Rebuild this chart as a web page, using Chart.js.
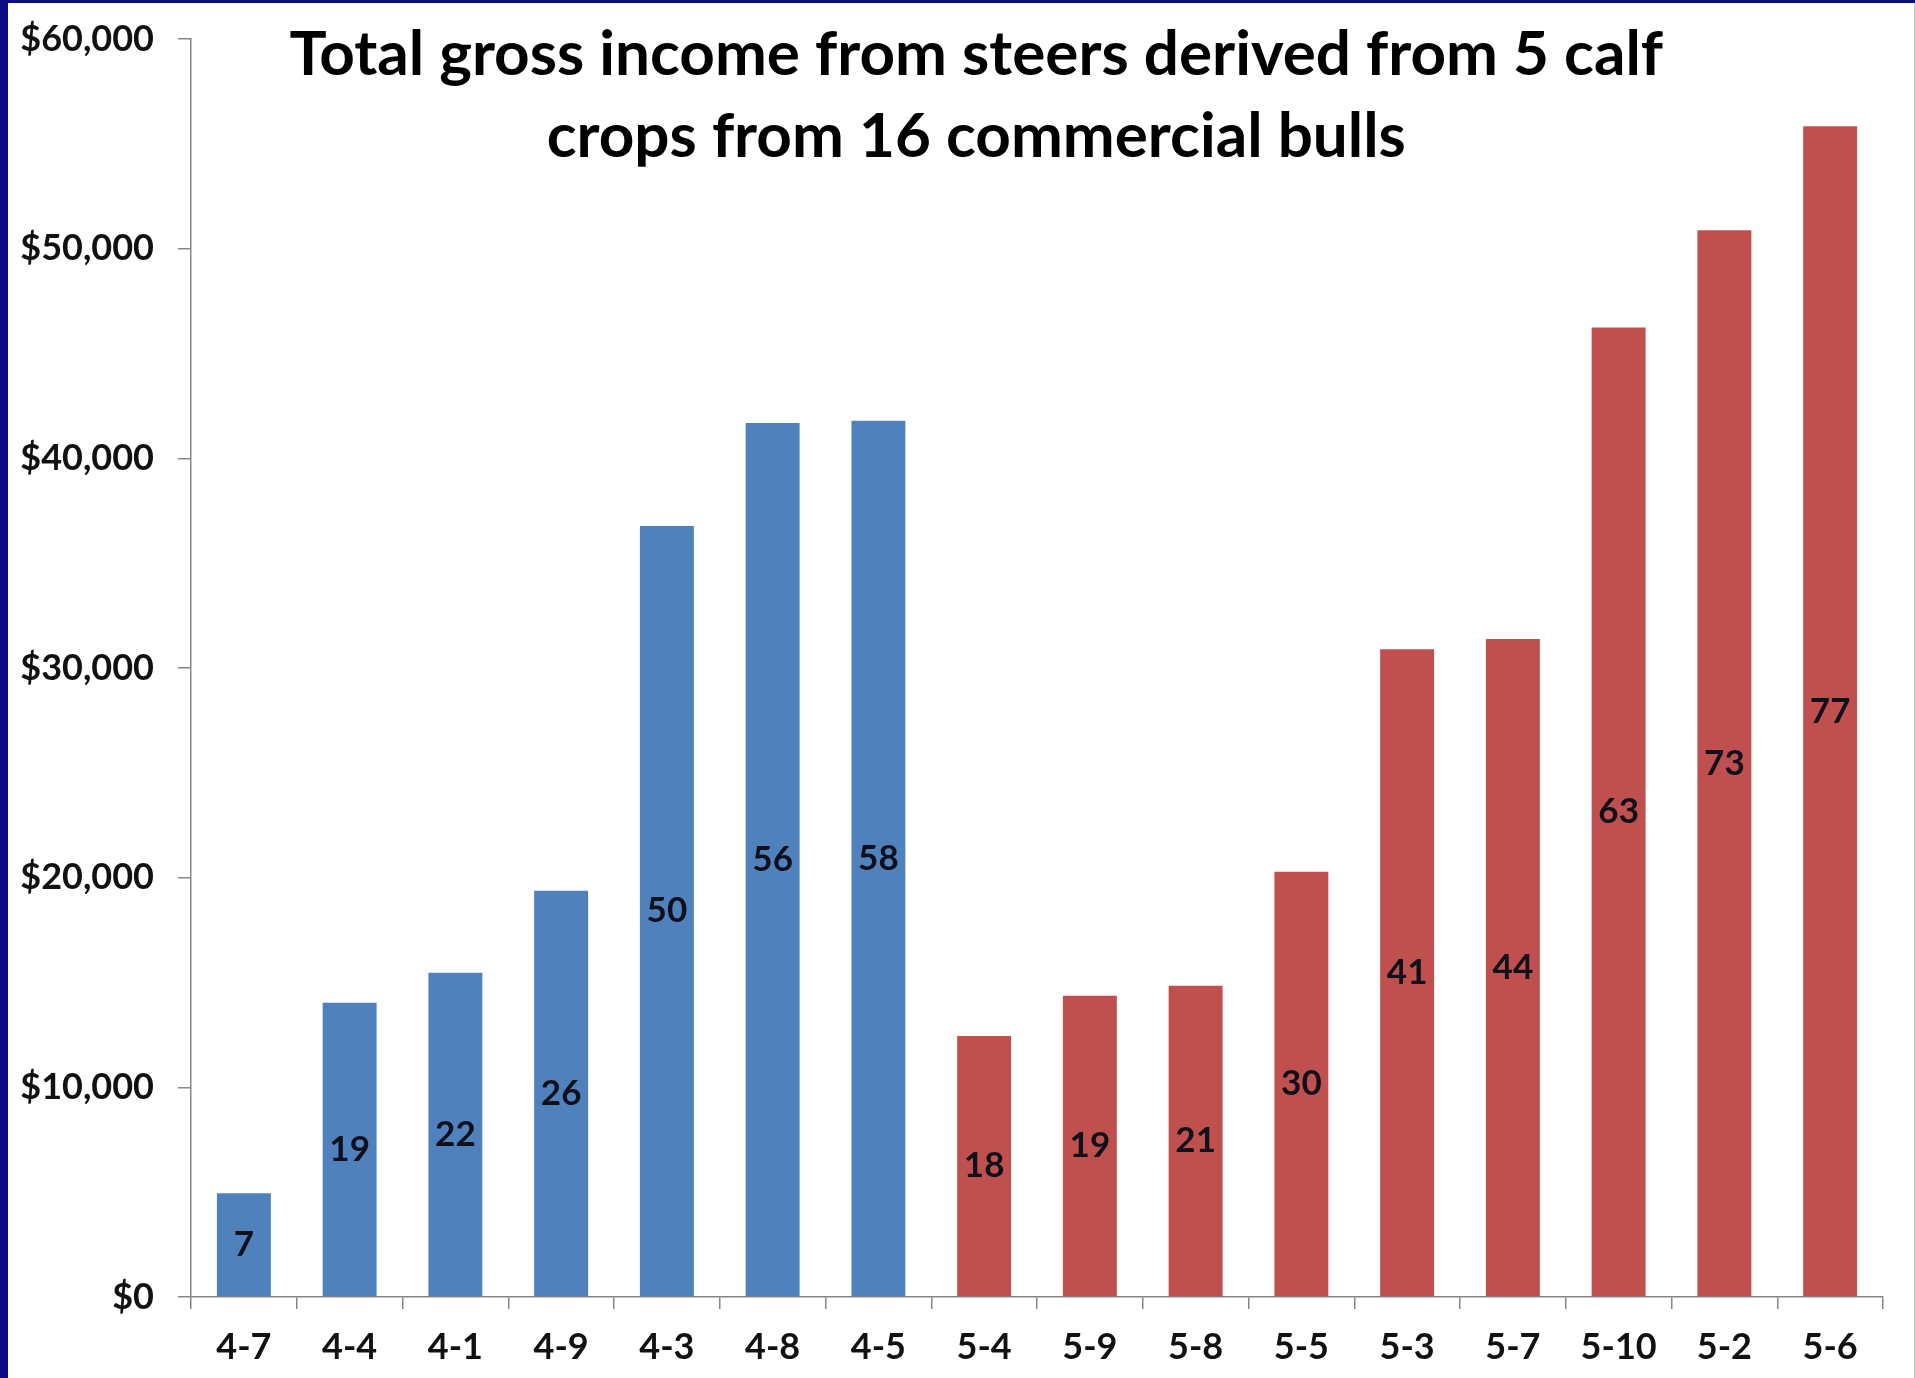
<!DOCTYPE html>
<html>
<head>
<meta charset="utf-8">
<script src="https://cdn.jsdelivr.net/npm/chart.js@4.4.1/dist/chart.umd.min.js"></script>
<style>
    html, body { margin: 0; padding: 0; background: #0a0a85; overflow: hidden; }
    #frame {
        position: absolute; left: 8px; top: 3px;
        width: 1906px; height: 1376px;
        background: #ffffff;
        border-right: 1px solid #c4c4c4;
    }
    #chart { display: block; }
</style>
</head>
<body>
<div id="frame"><canvas id="chart" width="1906" height="1375"></canvas></div>
<script>
// ## bull ids (sire group 4 first, then group 5) ##
const bulls = ['4-7', '4-4', '4-1', '4-9', '4-3', '4-8', '4-5',
               '5-4', '5-9', '5-8', '5-5', '5-3', '5-7', '5-10', '5-2', '5-6'];
// total gross income, dollars
const grossIncome = [4950, 14030, 15470, 19380, 36770, 41690, 41790,
                     12450, 14370, 14850, 20280, 30900, 31380, 46240, 50880, 55840];
// number of steers per bull, printed inside each bar
const steers = [7, 19, 22, 26, 50, 56, 58, 18, 19, 21, 30, 41, 44, 63, 73, 77];
const yTicks = [0, 10000, 20000, 30000, 40000, 50000, 60000];
const titleLines = ['Total gross income from steers derived from 5 calf',
                    'crops from 16 commercial bulls'];

const FONT = 'Lato, "Open Sans", "DejaVu Sans", sans-serif';
const BLUE = '#4f81bd';
const RED = '#c0504d';
const AXIS = '#868686';

// counts in the middle of every bar
const barLabels = {
    id: 'barLabels',
    afterDatasetsDraw(chart) {
        const ctx = chart.ctx;
        const meta = chart.getDatasetMeta(0);
        ctx.save();
        ctx.font = 'bold 35px ' + FONT;
        ctx.fillStyle = '#10101c';
        ctx.textAlign = 'center';
        ctx.textBaseline = 'middle';
        meta.data.forEach(function (bar, i) {
            ctx.fillText(String(steers[i]), bar.x, (bar.y + bar.base) / 2);
        });
        ctx.restore();
    }
};

// two line heading laid over the top of the plot
const overlayTitle = {
    id: 'overlayTitle',
    afterDraw(chart) {
        const ctx = chart.ctx;
        const cx = chart.width * 0.508;
        ctx.save();
        ctx.font = 'bold 62px ' + FONT;
        ctx.fillStyle = '#000000';
        ctx.textAlign = 'center';
        ctx.textBaseline = 'middle';
        ctx.fillText(titleLines[0], cx, 52);
        ctx.fillText(titleLines[1], cx, 134);
        ctx.restore();
    }
};

new Chart(document.getElementById('chart'), {
    type: 'bar',
    data: {
        labels: bulls,
        datasets: [{
            data: grossIncome,
            backgroundColor: function (c) {
                return bulls[c.dataIndex].startsWith('4') ? BLUE : RED;
            },
            borderWidth: 0,
            barPercentage: 0.51,
            categoryPercentage: 1
        }]
    },
    options: {
        responsive: false,
        animation: false,
        layout: { padding: { top: 36, right: 31, left: 0, bottom: 0 } },
        plugins: {
            legend: { display: false },
            title: { display: false },
            tooltip: { enabled: false }
        },
        scales: {
            x: {
                afterFit: function (scale) { scale.height = 81; },
                grid: {
                    offset: true,
                    drawOnChartArea: false,
                    drawTicks: true,
                    tickLength: 12,
                    color: AXIS,
                    lineWidth: 1.5
                },
                border: { display: true, color: AXIS, width: 1.5 },
                ticks: {
                    color: '#111111',
                    padding: 17,
                    maxRotation: 0,
                    autoSkip: false,
                    font: { family: FONT, size: 36, weight: 'bold' }
                }
            },
            y: {
                min: 0,
                max: 60000,
                afterFit: function (scale) {
                    // fixed gutter; tick labels may hang over the top padding
                    scale.width = 183;
                    scale.paddingTop = 0;
                    scale.paddingBottom = 0;
                },
                afterBuildTicks: function (scale) {
                    scale.ticks = yTicks.map(function (v) { return { value: v }; });
                },
                grid: {
                    drawOnChartArea: false,
                    drawTicks: true,
                    tickLength: 13,
                    color: AXIS,
                    lineWidth: 1.5
                },
                border: { display: true, color: AXIS, width: 1.5 },
                ticks: {
                    color: '#111111',
                    padding: 24,
                    font: { family: FONT, size: 36, weight: 'bold' },
                    callback: function (v) { return '$' + Number(v).toLocaleString('en-US'); }
                }
            }
        }
    },
    plugins: [barLabels, overlayTitle]
});
</script>
</body>
</html>
